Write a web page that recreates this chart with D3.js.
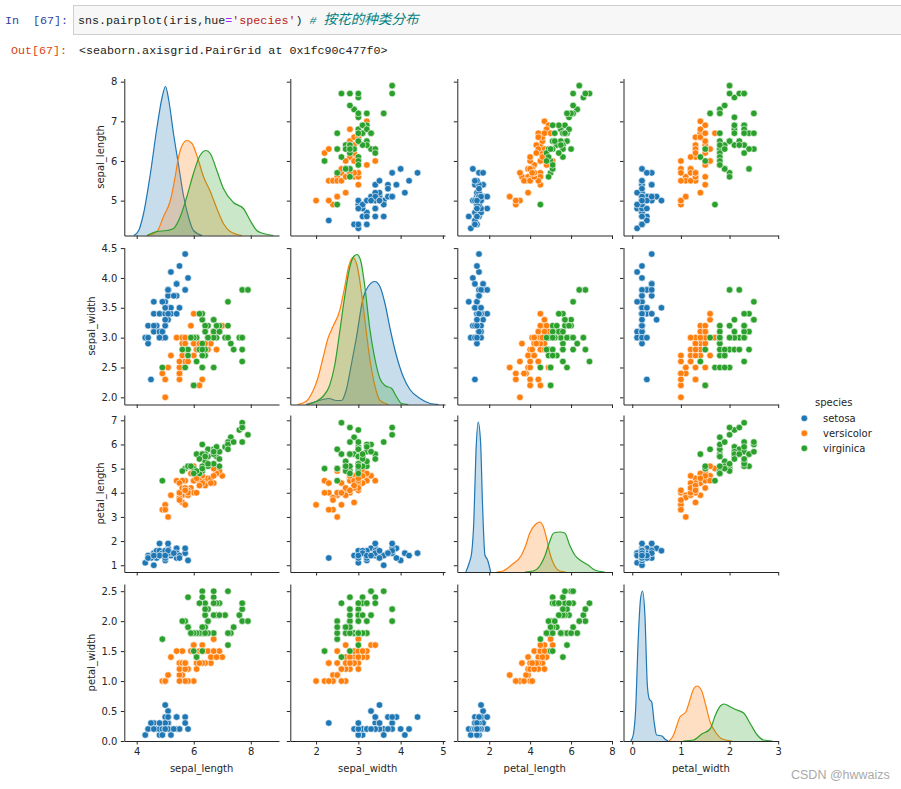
<!DOCTYPE html>
<html lang="en">
<head>
<meta charset="UTF-8">
<title>iris pairplot</title>
<script src="https://d3js.org/d3.v7.min.js"></script>
<style>
  body { margin: 0; background: #fff; }
  svg { display: block; }
  .tick text, .lab { font-family: "DejaVu Sans", sans-serif; font-size: 10px; fill: #262626; }
  .domain, .tick line { stroke: #262626; stroke-width: 1; }
  .mono { font-family: "Liberation Mono", "Noto Sans CJK SC", monospace; font-size: 11.7px; }
</style>
</head>
<body>
<div id="chart"></div>
<script>
const speciesNames = ['setosa', 'versicolor', 'virginica'];
const speciesColors = ['#1f77b4', '#ff7f0e', '#2ca02c'];
const columns = ['sepal_length', 'sepal_width', 'petal_length', 'petal_width'];

// 50 rows per species, in species order
const sepalLength = [5.1,4.9,4.7,4.6,5.0,5.4,4.6,5.0,4.4,4.9,5.4,4.8,4.8,4.3,5.8,5.7,5.4,5.1,5.7,5.1,5.4,5.1,4.6,5.1,4.8,5.0,5.0,5.2,5.2,4.7,4.8,5.4,5.2,5.5,4.9,5.0,5.5,4.9,4.4,5.1,5.0,4.5,4.4,5.0,5.1,4.8,5.1,4.6,5.3,5.0,
  7.0,6.4,6.9,5.5,6.5,5.7,6.3,4.9,6.6,5.2,5.0,5.9,6.0,6.1,5.6,6.7,5.6,5.8,6.2,5.6,5.9,6.1,6.3,6.1,6.4,6.6,6.8,6.7,6.0,5.7,5.5,5.5,5.8,6.0,5.4,6.0,6.7,6.3,5.6,5.5,5.5,6.1,5.8,5.0,5.6,5.7,5.7,6.2,5.1,5.7,
  6.3,5.8,7.1,6.3,6.5,7.6,4.9,7.3,6.7,7.2,6.5,6.4,6.8,5.7,5.8,6.4,6.5,7.7,7.7,6.0,6.9,5.6,7.7,6.3,6.7,7.2,6.2,6.1,6.4,7.2,7.4,7.9,6.4,6.3,6.1,7.7,6.3,6.4,6.0,6.9,6.7,6.9,5.8,6.8,6.7,6.7,6.3,6.5,6.2,5.9];
const sepalWidth = [3.5,3.0,3.2,3.1,3.6,3.9,3.4,3.4,2.9,3.1,3.7,3.4,3.0,3.0,4.0,4.4,3.9,3.5,3.8,3.8,3.4,3.7,3.6,3.3,3.4,3.0,3.4,3.5,3.4,3.2,3.1,3.4,4.1,4.2,3.1,3.2,3.5,3.6,3.0,3.4,3.5,2.3,3.2,3.5,3.8,3.0,3.8,3.2,3.7,3.3,
  3.2,3.2,3.1,2.3,2.8,2.8,3.3,2.4,2.9,2.7,2.0,3.0,2.2,2.9,2.9,3.1,3.0,2.7,2.2,2.5,3.2,2.8,2.5,2.8,2.9,3.0,2.8,3.0,2.9,2.6,2.4,2.4,2.7,2.7,3.0,3.4,3.1,2.3,3.0,2.5,2.6,3.0,2.6,2.3,2.7,3.0,2.9,2.9,2.5,2.8,
  3.3,2.7,3.0,2.9,3.0,3.0,2.5,2.9,2.5,3.6,3.2,2.7,3.0,2.5,2.8,3.2,3.0,3.8,2.6,2.2,3.2,2.8,2.8,2.7,3.3,3.2,2.8,3.0,2.8,3.0,2.8,3.8,2.8,2.8,2.6,3.0,3.4,3.1,3.0,3.1,3.1,3.1,2.7,3.2,3.3,3.0,2.5,3.0,3.4,3.0];
const petalLength = [1.4,1.4,1.3,1.5,1.4,1.7,1.4,1.5,1.4,1.5,1.5,1.6,1.4,1.1,1.2,1.5,1.3,1.4,1.7,1.5,1.7,1.5,1.0,1.7,1.9,1.6,1.6,1.5,1.4,1.6,1.6,1.5,1.5,1.4,1.5,1.2,1.3,1.4,1.3,1.5,1.3,1.3,1.3,1.6,1.9,1.4,1.6,1.4,1.5,1.4,
  4.7,4.5,4.9,4.0,4.6,4.5,4.7,3.3,4.6,3.9,3.5,4.2,4.0,4.7,3.6,4.4,4.5,4.1,4.5,3.9,4.8,4.0,4.9,4.7,4.3,4.4,4.8,5.0,4.5,3.5,3.8,3.7,3.9,5.1,4.5,4.5,4.7,4.4,4.1,4.0,4.4,4.6,4.0,3.3,4.2,4.2,4.2,4.3,3.0,4.1,
  6.0,5.1,5.9,5.6,5.8,6.6,4.5,6.3,5.8,6.1,5.1,5.3,5.5,5.0,5.1,5.3,5.5,6.7,6.9,5.0,5.7,4.9,6.7,4.9,5.7,6.0,4.8,4.9,5.6,5.8,6.1,6.4,5.6,5.1,5.6,6.1,5.6,5.5,4.8,5.4,5.6,5.1,5.1,5.9,5.7,5.2,5.0,5.2,5.4,5.1];
const petalWidth = [0.2,0.2,0.2,0.2,0.2,0.4,0.3,0.2,0.2,0.1,0.2,0.2,0.1,0.1,0.2,0.4,0.4,0.3,0.3,0.3,0.2,0.4,0.2,0.5,0.2,0.2,0.4,0.2,0.2,0.2,0.2,0.4,0.1,0.2,0.2,0.2,0.2,0.1,0.2,0.2,0.3,0.3,0.2,0.6,0.4,0.3,0.2,0.2,0.2,0.2,
  1.4,1.5,1.5,1.3,1.5,1.3,1.6,1.0,1.3,1.4,1.0,1.5,1.0,1.4,1.3,1.4,1.5,1.0,1.5,1.1,1.8,1.3,1.5,1.2,1.3,1.4,1.4,1.7,1.5,1.0,1.1,1.0,1.2,1.6,1.5,1.6,1.5,1.3,1.3,1.3,1.2,1.4,1.2,1.0,1.3,1.2,1.3,1.3,1.1,1.3,
  2.5,1.9,2.1,1.8,2.2,2.1,1.7,1.8,1.8,2.5,2.0,1.9,2.1,2.0,2.4,2.3,1.8,2.2,2.3,1.5,2.3,2.0,2.0,1.8,2.1,1.8,1.8,1.8,2.1,1.6,1.9,2.0,2.2,1.5,1.4,2.3,2.4,1.8,1.8,2.1,2.4,2.3,1.9,2.3,2.5,2.3,1.9,2.0,2.3,1.8];

// density curves: [x values, density] per species
const kdeSepalLength = [
  [[3.9,4.07,4.24,4.48,4.71,4.89,5.01,5.12,5.29,5.47,5.64,5.82,5.99,6.29],
   [0,.05,.22,.62,1.08,1.38,1.49,1.36,1.02,.70,.40,.18,.05,0]],
  [[4.36,4.71,4.94,5.18,5.35,5.47,5.59,5.76,5.94,6.11,6.34,6.58,6.81,7.04,7.28,7.69],
   [0,.04,.19,.35,.59,.79,.90,.95,.92,.80,.59,.44,.27,.12,.04,0]],
  [[4.36,4.71,5.06,5.29,5.53,5.76,5.99,6.22,6.43,6.58,6.81,7.04,7.39,7.74,7.98,8.21,8.44,8.79],
   [0,.04,.05,.07,.19,.39,.62,.80,.85,.82,.65,.47,.33,.27,.15,.05,.02,0]]
];
const kdeSepalWidth = [
  [[1.76,2,2.16,2.3,2.48,2.6,2.71,2.83,2.95,3.11,3.23,3.39,3.51,3.63,3.75,3.9,4.06,4.22,4.46,4.7,4.9],
   [0,.03,.05,.06,.04,.04,.14,.39,.66,1.06,1.18,1.23,1.18,1.01,.76,.49,.28,.15,.06,.01,0]],
  [[1.56,1.76,1.92,2.04,2.16,2.28,2.4,2.56,2.67,2.77,2.87,2.97,3.07,3.15,3.27,3.39,3.51,3.71],
   [0,.03,.13,.26,.46,.66,.78,.94,1.16,1.38,1.47,1.39,1.13,.86,.46,.19,.04,0]],
  [[1.8,2,2.16,2.32,2.44,2.56,2.67,2.79,2.89,2.97,3.06,3.15,3.27,3.39,3.51,3.63,3.79,3.9,4.02,4.18],
   [0,.03,.08,.19,.39,.73,1.06,1.36,1.48,1.50,1.43,1.19,.76,.46,.26,.19,.16,.08,.01,0]]
];
const kdePetalLength = [
  [[.86,1.02,1.14,1.25,1.35,1.46,1.58,1.67,1.79,1.92,2.07],
   [0,.09,.19,.52,1.19,1.50,1.29,.69,.17,.12,0]],
  [[2.36,2.68,3.09,3.58,3.79,3.98,4.23,4.47,4.63,4.8,4.96,5.2,5.45,5.74],
   [0,.01,.07,.17,.27,.39,.47,.50,.46,.34,.19,.06,.01,0]],
  [[3.74,4.15,4.47,4.72,4.93,5.15,5.45,5.69,5.93,6.18,6.5,6.83,7.15,7.64],
   [0,.01,.06,.16,.29,.39,.40,.39,.27,.17,.11,.07,.02,0]]
];
const kdePetalWidth = [
  [[-.03,.02,.07,.12,.17,.21,.26,.31,.35,.40,.45,.50,.61,.67,.74],
   [0,.06,.32,.99,1.42,1.50,1.26,.56,.42,.39,.19,.06,.05,.02,0]],
  [[.76,.85,.92,.98,1.10,1.19,1.26,1.33,1.42,1.51,1.60,1.71,1.85,2.05],
   [0,.06,.16,.24,.29,.42,.52,.55,.51,.36,.19,.09,.02,0]],
  [[1.05,1.26,1.43,1.60,1.71,1.81,1.89,2.02,2.15,2.29,2.43,2.57,2.70,2.88],
   [0,.01,.07,.12,.26,.35,.37,.34,.31,.28,.17,.06,.01,0]]
];

const values = [sepalLength, sepalWidth, petalLength, petalWidth];
const kdes = [kdeSepalLength, kdeSepalWidth, kdePetalLength, kdePetalWidth];

const xLims = [[3.565, 8.99], [1.39, 5.05], [0.44, 8], [-0.18, 3]];
const yLims = [[4.12, 8.08], [1.88, 4.51], [0.72, 7.22], [0, 2.62]];
const xTicks = [[4, 6, 8], [2, 3, 4, 5], [2, 4, 6, 8], [0, 1, 2, 3]];
const yTicks = [[5, 6, 7, 8], [2, 2.5, 3, 3.5, 4, 4.5], [1, 2, 3, 4, 5, 6, 7], [0, 0.5, 1, 1.5, 2, 2.5]];
const yFormats = ['d', '.1f', 'd', '.1f'];
const yLabelX = [104, 95, 104, 95];
const densityMax = 1.57;

const colLeft = [124.3, 290.3, 457.3, 623.5];
const rowTop = [78.5, 247.5, 415, 584];
const panelW = 154.7, panelH = 157;

const svg = d3.select('#chart').append('svg').attr('width', 901).attr('height', 789);

// notebook cell around the figure
svg.append('rect').attr('x', 73.5).attr('y', 5.5).attr('width', 828).attr('height', 29)
  .attr('fill', '#f7f7f7').attr('stroke', '#cfcfcf');
svg.append('text').attr('class', 'mono').attr('x', 5).attr('y', 24).attr('fill', '#303f9f')
  .style('white-space', 'pre').text('In  [67]:');
const code = svg.append('text').attr('class', 'mono').attr('x', 78).attr('y', 24).style('white-space', 'pre');
code.append('tspan').attr('fill', '#222').text('sns.pairplot(iris,hue');
code.append('tspan').attr('fill', '#aa22ff').text('=');
code.append('tspan').attr('fill', '#ba2121').text("'species'");
code.append('tspan').attr('fill', '#222').text(') ');
code.append('tspan').attr('fill', '#008080').attr('font-style', 'italic').text('# ');
code.append('tspan').attr('fill', '#008080').attr('font-style', 'italic').style('font-size', '13.6px').text('按花的种类分布');
svg.append('text').attr('class', 'mono').attr('x', 11).attr('y', 54).attr('fill', '#d84315').text('Out[67]:');
svg.append('text').attr('class', 'mono').attr('x', 79).attr('y', 54).attr('fill', '#222')
  .text('<seaborn.axisgrid.PairGrid at 0x1fc90c477f0>');

const xScales = xLims.map((d, c) => d3.scaleLinear().domain(d).range([colLeft[c], colLeft[c] + panelW]));
const yScales = yLims.map((d, r) => d3.scaleLinear().domain(d).range([rowTop[r] + panelH, rowTop[r]]));
const kdeY = rowTop.map(t => d3.scaleLinear().domain([0, densityMax]).range([t + panelH, t]));

columns.forEach((rowName, r) => {
  columns.forEach((colName, c) => {
    const x = xScales[c], y = yScales[r];
    const g = svg.append('g');

    if (r === c) {
      const yd = kdeY[r];
      kdes[r].forEach((curve, s) => {
        const pts = d3.zip(curve[0], curve[1]);
        g.append('path').datum(pts)
          .attr('fill', speciesColors[s]).attr('fill-opacity', 0.25).attr('stroke', 'none')
          .attr('d', d3.area().curve(d3.curveMonotoneX).x(d => x(d[0])).y0(yd(0)).y1(d => yd(d[1])));
        g.append('path').datum(pts)
          .attr('fill', 'none').attr('stroke', speciesColors[s]).attr('stroke-width', 1.2)
          .attr('d', d3.line().curve(d3.curveMonotoneX).x(d => x(d[0])).y(d => yd(d[1])));
      });
    } else {
      g.selectAll('circle').data(d3.range(150)).enter().append('circle')
        .attr('cx', i => x(values[c][i]))
        .attr('cy', i => y(values[r][i]))
        .attr('r', 3.3)
        .attr('fill', i => speciesColors[Math.floor(i / 50)])
        .attr('stroke', '#fff').attr('stroke-width', 0.6);
    }

    const xAxis = d3.axisBottom(x).tickValues(xTicks[c]).tickSize(3.5).tickSizeOuter(0).tickPadding(3.5)
      .tickFormat(r === 3 ? d3.format('d') : '');
    const yAxis = d3.axisLeft(y).tickValues(yTicks[r]).tickSize(3.5).tickSizeOuter(0).tickPadding(3.5)
      .tickFormat(c === 0 ? d3.format(yFormats[r]) : '');
    svg.append('g').attr('transform', `translate(0,${rowTop[r] + panelH})`).call(xAxis);
    svg.append('g').attr('transform', `translate(${colLeft[c]},0)`).call(yAxis);

    if (r === 3) {
      svg.append('text').attr('class', 'lab').attr('text-anchor', 'middle')
        .attr('x', colLeft[c] + panelW / 2).attr('y', 772).text(colName);
    }
    if (c === 0) {
      svg.append('text').attr('class', 'lab').attr('text-anchor', 'middle')
        .attr('transform', `translate(${yLabelX[r]},${rowTop[r] + panelH / 2}) rotate(-90)`).text(rowName);
    }
  });
});

// legend
const legend = svg.append('g');
legend.append('text').attr('class', 'lab').attr('x', 815).attr('y', 406).text('species');
speciesNames.forEach((name, i) => {
  legend.append('circle').attr('cx', 804.3).attr('cy', 418.3 + i * 15).attr('r', 3.3)
    .attr('fill', speciesColors[i]).attr('stroke', '#fff').attr('stroke-width', 0.6);
  legend.append('text').attr('class', 'lab').attr('x', 823).attr('y', 422 + i * 15).text(name);
});

// site watermark on the screenshot
svg.append('text').attr('x', 791).attr('y', 779).attr('fill', '#aaa')
  .style('font-family', '"Liberation Sans", sans-serif').style('font-size', '12.5px').text('CSDN @hwwaizs');
</script>
</body>
</html>
